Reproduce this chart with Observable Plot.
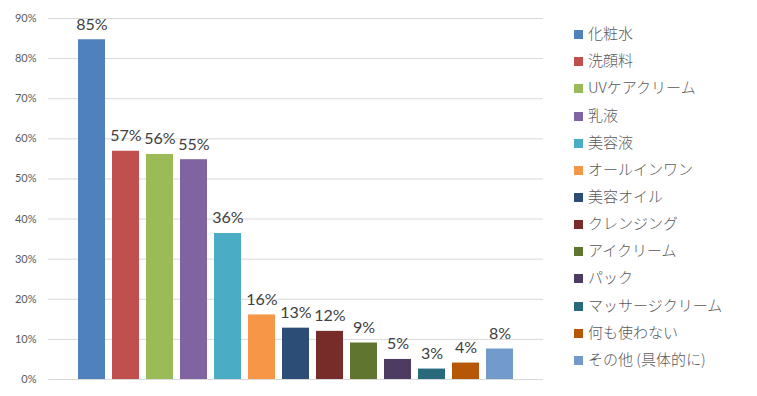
<!DOCTYPE html>
<html>
<head>
<meta charset="utf-8">
<script src="https://cdn.jsdelivr.net/npm/d3@7"></script>
<script src="https://cdn.jsdelivr.net/npm/@observablehq/plot@0.6"></script>
<style>
  html, body { margin: 0; padding: 0; background: #fff; }
  #wrap { position: relative; width: 757px; height: 396px; }
  #legend { position: absolute; left: 574px; top: 19px; font-family: "Noto Sans CJK JP", sans-serif; font-size: 15px; font-weight: 300; color: #595959; }
  .item { height: 27.17px; display: flex; align-items: center; white-space: nowrap; }
  .sw { width: 9px; height: 9px; margin-right: 5px; flex: none; position: relative; top: 2px; }
</style>
</head>
<body>
<div id="wrap"></div>
<script>
const categories = ["化粧水", "洗顔料", "UVケアクリーム", "乳液", "美容液", "オールインワン", "美容オイル", "クレンジング", "アイクリーム", "パック", "マッサージクリーム", "何も使わない", "その他 (具体的に)"];
const values = [0.847, 0.569, 0.561, 0.548, 0.364, 0.161, 0.128, 0.12, 0.091, 0.05, 0.026, 0.041, 0.076];
const colors = ["#4F81BD", "#C0504D", "#9BBB59", "#8064A2", "#4BACC6", "#F79646", "#2C4D75", "#772C2A", "#5F7530", "#4D3B62", "#276A7C", "#B65708", "#729ACA"];
const yTicks = [0, 0.1, 0.2, 0.3, 0.4, 0.5, 0.6, 0.7, 0.8, 0.9];

const data = categories.map((c, i) => ({category: c, value: values[i]}));

const chart = Plot.plot({
  width: 757,
  height: 396,
  marginLeft: 48,
  marginRight: 214,
  marginTop: 18,
  marginBottom: 17,
  insetLeft: 22,
  insetRight: 21,
  style: {fontFamily: "Lato, sans-serif", background: "#fff"},
  x: {domain: categories, padding: 0.2, axis: null},
  y: {domain: [0, 0.9]},
  color: {domain: categories, range: colors},
  marks: [
    Plot.ruleY(yTicks, {stroke: "#d9d9d9", strokeWidth: 1}),
    Plot.axisY(yTicks, {tickFormat: d => Math.round(d * 100) + "%", tickSize: 0, tickPadding: 12, fontSize: 11, fill: "#595959", label: null}),
    Plot.barY(data, {x: "category", y: "value", fill: "category"}),
    Plot.text(data, {x: "category", y: "value", text: d => Math.round(d.value * 100) + "%", dy: -10, lineAnchor: "bottom", fontSize: 16, fill: "#404040"})
  ]
});
const wrap = document.getElementById("wrap");
wrap.appendChild(chart);

const legend = document.createElement("div");
legend.id = "legend";
categories.forEach((c, i) => {
  const item = document.createElement("div");
  item.className = "item";
  const sw = document.createElement("span");
  sw.className = "sw";
  sw.style.background = colors[i];
  const t = document.createElement("span");
  t.textContent = c;
  item.appendChild(sw);
  item.appendChild(t);
  legend.appendChild(item);
});
wrap.appendChild(legend);
</script>
</body>
</html>
